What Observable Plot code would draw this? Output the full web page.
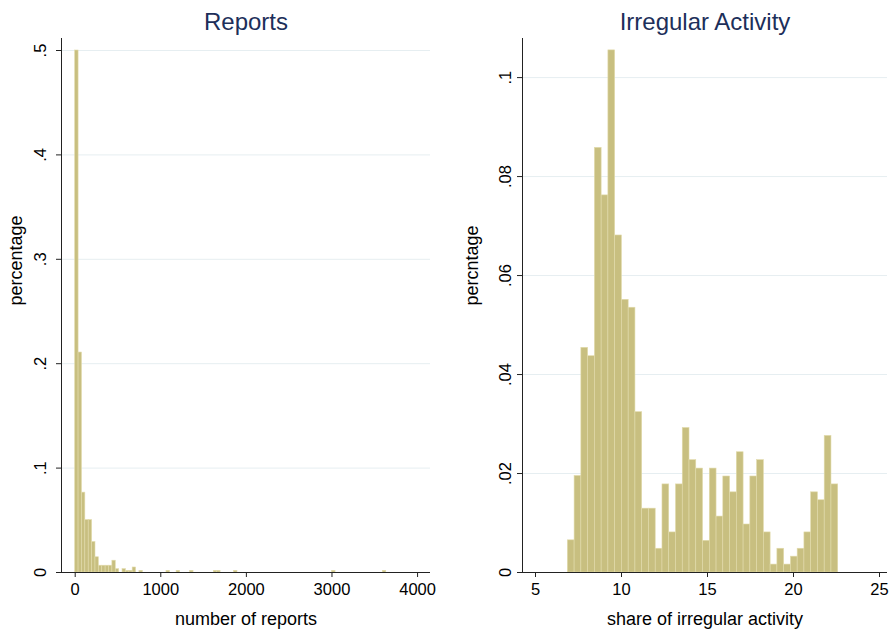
<!DOCTYPE html>
<html>
<head>
<meta charset="utf-8">
<script src="https://cdn.jsdelivr.net/npm/d3@7"></script>
<script src="https://cdn.jsdelivr.net/npm/@observablehq/plot@0.6"></script>
<style>
  html, body { margin: 0; padding: 0; background: #fff; }
  #row { display: flex; width: 892px; height: 630px; }
</style>
</head>
<body>
<div id="row"></div>
<script>
// ---- Reports histogram (fraction per bin) ----
const reportsBinWidth = 39.5;
const reportsBinIndex = [0, 1, 2, 3, 4, 5, 6, 7, 8, 9, 10, 11, 12, 14, 15, 16, 17, 19, 27, 30, 34, 41, 42, 47, 76, 91];
const reportsPct = [0.5, 0.2107, 0.0765, 0.0502, 0.0502, 0.0292, 0.0146, 0.0065, 0.0065, 0.0065, 0.0065, 0.0113, 0.0032,
  0.0032, 0.0016, 0.0016, 0.0048, 0.0016, 0.0016, 0.0016, 0.0016, 0.0016, 0.0016, 0.0016, 0.0016, 0.0016];
const reportsXTicks = [0, 1000, 2000, 3000, 4000];
const reportsYTicks = [0, 0.1, 0.2, 0.3, 0.4, 0.5];
const reportsYTickLabels = ["0", ".1", ".2", ".3", ".4", ".5"];

// ---- Irregular activity histogram ----
const irregStart = 6.88;
const irregBinWidth = 0.393;
const irregPct = [0.0065, 0.0195, 0.0454, 0.0437, 0.0858, 0.0762, 0.1055, 0.0681, 0.0551, 0.0535,
  0.0324, 0.0129, 0.0129, 0.0048, 0.0178, 0.0081, 0.0178, 0.0292, 0.0227, 0.021,
  0.0064, 0.021, 0.0113, 0.0194, 0.0162, 0.0243, 0.0097, 0.0194, 0.0227, 0.0081,
  0.0016, 0.0048, 0.0016, 0.0032, 0.0048, 0.0081, 0.0162, 0.0146, 0.0276, 0.0178];
const irregXTicks = [5, 10, 15, 20, 25];
const irregYTicks = [0, 0.02, 0.04, 0.06, 0.08, 0.1];
const irregYTickLabels = ["0", ".02", ".04", ".06", ".08", ".1"];

const barFill = "#c8bf80";
const barStroke = "#e2dbab";
const gridColor = "#e6eef1";
const titleColor = "#1d2f5a";
const font = "'Liberation Sans', Arial, Helvetica, sans-serif";

function panel({title, xlabel, ylabel, bars, xDomain, yDomain, xTicks, yTicks, yTickLabels,
                marginLeft, marginRight, ylabelDx, yTickDx}) {
  return Plot.plot({
    width: 446,
    height: 630,
    marginTop: 38,
    marginBottom: 58,
    marginLeft,
    marginRight,
    style: {fontFamily: font, fontSize: "16px", color: "#000", background: "#fff", overflow: "visible"},
    x: {domain: xDomain},
    y: {domain: yDomain},
    marks: [
      Plot.gridY(yTicks.filter(d => d > 0), {stroke: gridColor, strokeOpacity: 1, strokeWidth: 1}),
      Plot.rectY(bars, {x1: "x1", x2: "x2", y: "pct", fill: barFill, stroke: barStroke, strokeWidth: 0.6}),
      Plot.ruleY([yDomain[0]], {stroke: "#222", strokeWidth: 1}),
      Plot.ruleX([xDomain[0]], {stroke: "#222", strokeWidth: 1}),
      Plot.axisX({ticks: xTicks, tickSize: 5, tickPadding: 6, fontSize: 16.5, label: null, stroke: "#222",
        tickFormat: d => String(d)}),
      Plot.axisY({ticks: yTicks, tickSize: 5, tickFormat: () => "", label: null, stroke: "#222"}),
      Plot.text(yTicks, {y: d => d, text: (d, i) => yTickLabels[i], frameAnchor: "left", dx: yTickDx,
        rotate: -90, textAnchor: "middle", lineAnchor: "middle", fontSize: 16.5, fill: "#000"}),
      Plot.text([title], {frameAnchor: "top", dy: -26, fontSize: 24, fill: titleColor}),
      Plot.text([xlabel], {frameAnchor: "bottom", dy: 52, fontSize: 18, fill: "#000"}),
      Plot.text([ylabel], {frameAnchor: "left", dx: ylabelDx, rotate: -90, fontSize: 18, fill: "#000"})
    ]
  });
}

const reportsBars = reportsBinIndex.map((b, i) => ({
  x1: b * reportsBinWidth, x2: (b + 1) * reportsBinWidth, pct: reportsPct[i]
}));
const irregBars = irregPct.map((p, i) => ({
  x1: irregStart + i * irregBinWidth, x2: irregStart + (i + 1) * irregBinWidth, pct: p
}));

const row = document.getElementById("row");
row.append(panel({
  title: "Reports", xlabel: "number of reports", ylabel: "percentage",
  bars: reportsBars, xDomain: [-160, 4151], yDomain: [0, 0.5115],
  xTicks: reportsXTicks, yTicks: reportsYTicks, yTickLabels: reportsYTickLabels,
  marginLeft: 61, marginRight: 16, ylabelDx: -45, yTickDx: -21
}));
row.append(panel({
  title: "Irregular Activity", xlabel: "share of irregular activity", ylabel: "percntage",
  bars: irregBars, xDomain: [4.244, 25.465], yDomain: [0, 0.1079],
  xTicks: irregXTicks, yTicks: irregYTicks, yTickLabels: irregYTickLabels,
  marginLeft: 76, marginRight: 5, ylabelDx: -50, yTickDx: -17
}));
</script>
</body>
</html>
